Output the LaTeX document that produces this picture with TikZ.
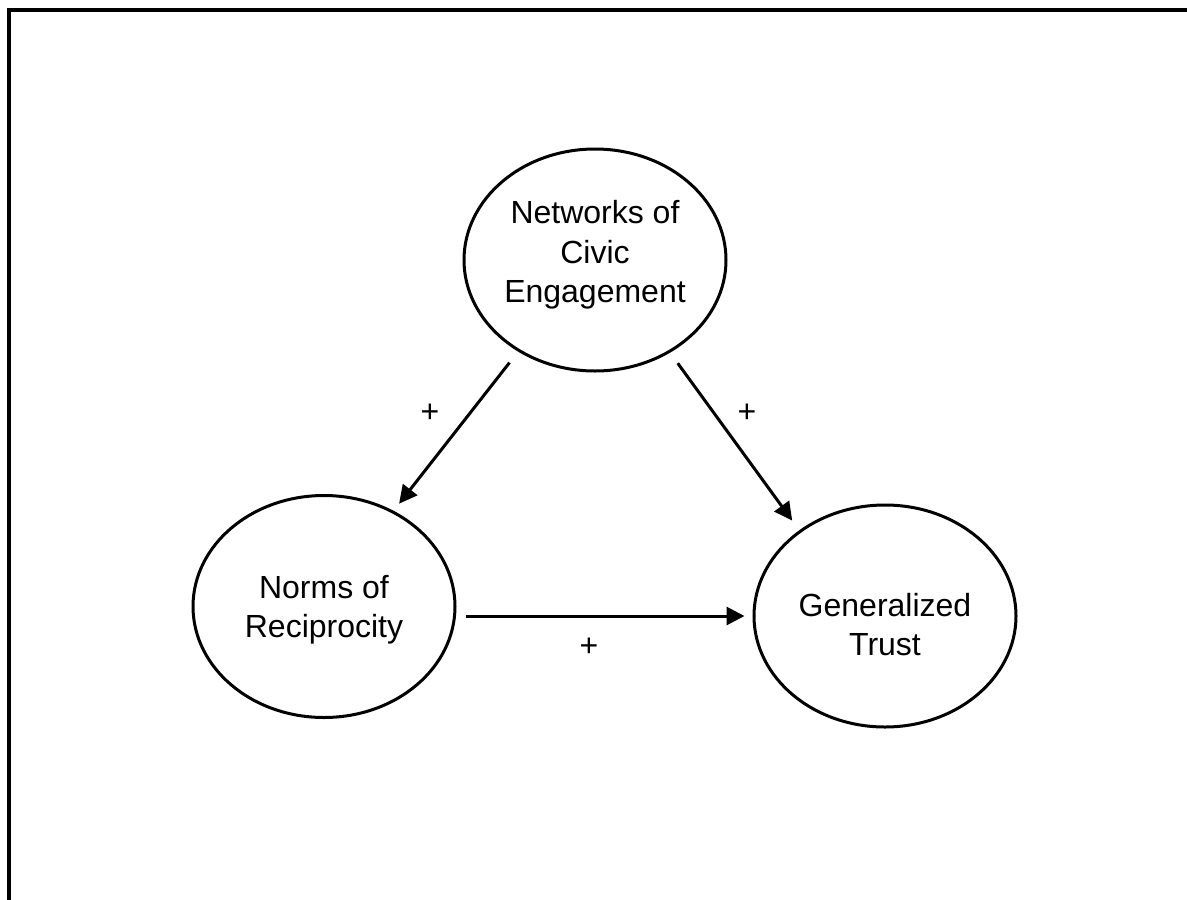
\documentclass[tikz,border=0pt]{standalone}
\usepackage{fontspec}
\setmainfont{Liberation Sans}
\usetikzlibrary{shapes.geometric,arrows.meta}
\tikzset{
  bubble/.style={ellipse, draw=black, line width=3pt, minimum width=262pt, minimum height=222pt, inner sep=0pt},
  lbl/.style={align=center, inner sep=0pt, font=\fontsize{32}{39.4}\selectfont},
  plus/.style={inner sep=0pt, font=\fontsize{32}{39.4}\selectfont},
  arr/.style={line width=3pt, -{Triangle[length=18pt,width=18pt]}}
}
\begin{document}
\begin{tikzpicture}[x=1pt,y=-1pt]
\useasboundingbox (0,0) rectangle (1187,900);
% frame (top and left edges)
\draw[line width=4pt, line cap=rect] (9,905) -- (9,9.5) -- (1192,9.5);
% ellipses
\node[bubble] (net) at (595,260) {};
\node[bubble] (norms) at (324,606.5) {};
\node[bubble] (trust) at (885,616) {};
% texts
\node[lbl] (nett) at (595,255) {Networks of\\Civic\\Engagement};
\node[lbl] (normst) at (324,609.5) {Norms of\\Reciprocity};
\node[lbl] (trustt) at (885,624.5) {Generalized\\Trust};
% connectors
\draw[arr, shorten <=14pt, shorten >=9pt] (net.-130) -- (norms.54);
\draw[arr, shorten <=13pt, shorten >=12pt] (net.-51) -- (trust.135.6);
\draw[arr, shorten <=9pt, shorten >=8pt] (norms.east |- trust.west) -- (trust.west);
% labels
\node[plus] (p1) at (430,413) {+};
\node[plus] (p2) at (747,413) {+};
\node[plus] (p3) at (589,647) {+};
\end{tikzpicture}
\end{document}
